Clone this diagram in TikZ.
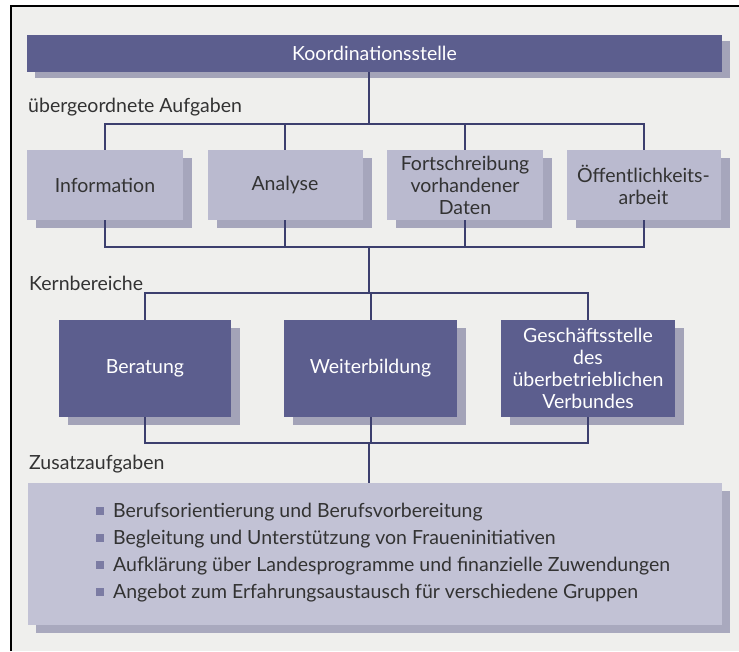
\documentclass[tikz,border=0pt]{standalone}
\usepackage{fontspec}
\setmainfont{Lato}
\usetikzlibrary{shadows}
\definecolor{bg}{HTML}{EFEFED}
\definecolor{dark}{HTML}{5C5E8E}
\definecolor{darksh}{HTML}{A3A3B8}
\definecolor{light}{HTML}{BABACF}
\definecolor{lightsh}{HTML}{A6A6BC}
\definecolor{zus}{HTML}{C2C2D5}
\definecolor{zussh}{HTML}{A9A9BE}
\definecolor{ln}{HTML}{3C3F6E}
\definecolor{txt}{HTML}{333333}
\definecolor{bul}{HTML}{7B7BA3}
\tikzset{
  fnt/.style={font=\fontsize{19.5}{22}\selectfont},
  lbl/.style={fnt, text=txt, anchor=base west, inner sep=0pt},
  darkbox/.style={fill=dark, text=white, inner sep=0pt, align=center, fnt,
     drop shadow={shadow xshift=9pt, shadow yshift=-8pt, fill=darksh, opacity=1}},
  lightbox/.style={fill=light, text=txt, inner sep=0pt, align=center, fnt,
     drop shadow={shadow xshift=9pt, shadow yshift=-8pt, fill=lightsh, opacity=1}},
  zusbox/.style={fill=zus, inner sep=0pt,
     drop shadow={shadow xshift=8pt, shadow yshift=-8pt, fill=zussh, opacity=1}},
  conn/.style={draw=ln, line width=2pt},
  bullet/.style={fill=bul, minimum size=8pt, inner sep=0pt},
  btext/.style={fnt, text=txt, anchor=base west, inner sep=0pt}
}
\begin{document}
\begin{tikzpicture}[x=1pt,y=-1pt]
\useasboundingbox (0,0) rectangle (739,651);
\fill[white] (0,0) rectangle (739,651);
\fill[bg] (11,6) rectangle (739,651);
\draw[black, line width=1.5pt] (11,651) -- (11,6) -- (739,6);

% top bar
\node[fill=dark, text=white, inner sep=0pt, fnt, minimum width=695pt, minimum height=37pt,
      drop shadow={shadow xshift=8pt, shadow yshift=-6pt, fill=darksh, opacity=1}] (koord) at (374.5,53.5) {Koordinationsstelle};

\node[lbl] (lab1) at (28,112) {übergeordnete Aufgaben};

% row 1
\node[lightbox, minimum width=156pt, minimum height=70pt] (info) at (105,185) {Information};
\node[lightbox, minimum width=155pt, minimum height=70pt] (ana) at (285,185) {Analyse};
\node[lightbox, minimum width=156pt, minimum height=70pt] (fort) at (465,185) {Fortschreibung\\vorhandener\\Daten};
\node[lightbox, minimum width=154pt, minimum height=70pt] (oeff) at (643.5,185) {Öffentlichkeits-\\arbeit};

\coordinate (t1) at (369,124);
\coordinate (b1) at (369,247);
\draw[conn] (koord.south -| t1) -- (t1);
\draw[conn] (info.north) -- (info.north |- t1) -- (oeff.north |- t1) -- (oeff.north);
\draw[conn] (ana.north) -- (ana.north |- t1);
\draw[conn] (fort.north) -- (fort.north |- t1);
\draw[conn] (info.south) -- (info.south |- b1) -- (oeff.south |- b1) -- (oeff.south);
\draw[conn] (ana.south) -- (ana.south |- b1);
\draw[conn] (fort.south) -- (fort.south |- b1);

\node[lbl] (lab2) at (29,290) {Kernbereiche};

% row 2
\node[darkbox, minimum width=172pt, minimum height=97pt] (ber) at (145,368.5) {Beratung};
\node[darkbox, minimum width=173pt, minimum height=97pt] (wei) at (370.5,368.5) {Weiterbildung};
\node[darkbox, minimum width=174pt, minimum height=97pt] (ges) at (588,368.5) {Geschäftsstelle\\des\\überbetrieblichen\\Verbundes};

\coordinate (t2) at (369,293);
\coordinate (b2) at (369,443);
\draw[conn] (b1) -- (t2);
\draw[conn] (ber.north) -- (ber.north |- t2) -- (ges.north |- t2) -- (ges.north);
\draw[conn] (wei.north |- t2) -- (wei.north);
\draw[conn] (ber.south) -- (ber.south |- b2) -- (ges.south |- b2) -- (ges.south);
\draw[conn] (wei.south) -- (wei.south |- b2);

\node[lbl] (lab3) at (29,469) {Zusatzaufgaben};

% bottom box
\node[zusbox, minimum width=694pt, minimum height=142pt] (zus) at (375,554) {};
\draw[conn] (b2) -- (zus.north -| b2);

\foreach \i/\t/\yy in {1/Berufsorientierung und Berufsvorbereitung/517,
  2/Begleitung und Unterstützung von Fraueninitiativen/544,
  3/Aufklärung über Landesprogramme und finanzielle Zuwendungen/571,
  4/Angebot zum Erfahrungsaustausch für verschiedene Gruppen/598}{
  \node[bullet] (bu\i) at (100,\yy-6.5) {};
  \node[btext] (bt\i) at (113,\yy) {\t};
}
\end{tikzpicture}
\end{document}
